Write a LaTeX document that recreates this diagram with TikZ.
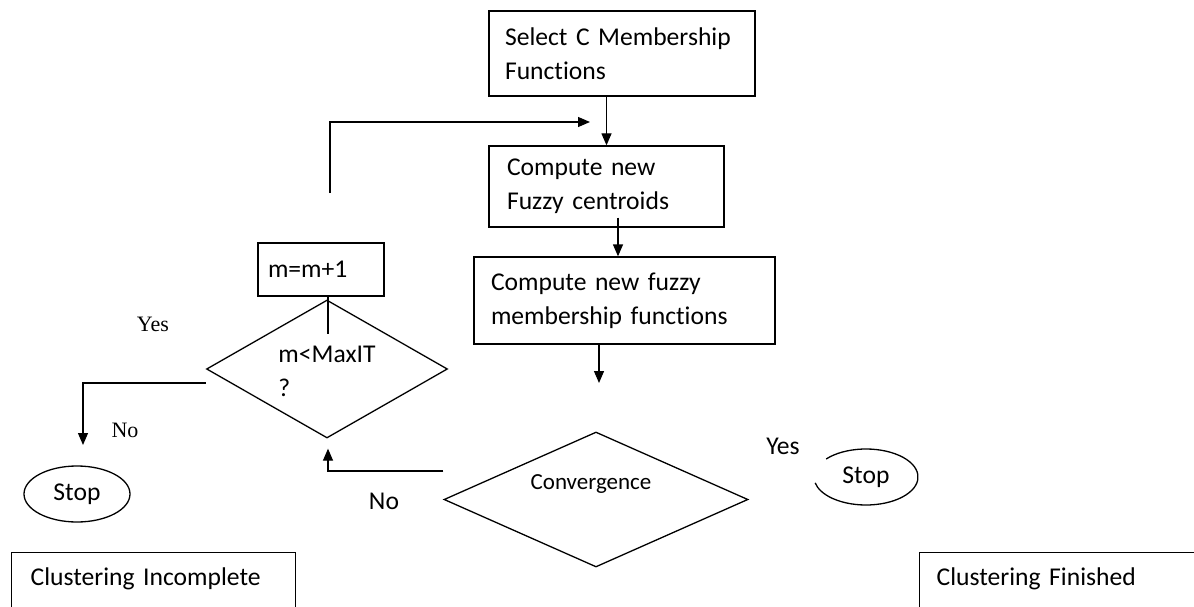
\documentclass[tikz,border=0pt]{standalone}
\usepackage{fontspec}
\setmainfont[Ligatures=NoCommon]{Carlito}
\newfontfamily\oldserif{Liberation Serif}
\usetikzlibrary{arrows.meta,shapes.geometric}
\newcommand\tightspace{\spaceskip=3.2pt plus 1pt minus 1pt\relax}

\begin{document}
\begin{tikzpicture}[
      x=1pt, y=1pt,
      font=\fontsize{25.6}{34}\selectfont\tightspace,
      line width=1.3pt,
      pbox/.style={draw, rectangle, align=left, inner ysep=0pt},
      dbox/.style={draw, diamond, inner sep=0pt},
      obox/.style={draw, ellipse, inner sep=0pt},
      lbl/.style={inner sep=1pt},
      slbl/.style={inner sep=1pt, font=\oldserif\fontsize{22}{26}\selectfont},
      arr/.style={-{Triangle[length=12pt,width=10pt]}},
    ]
      \useasboundingbox (0,0) rectangle (1194,-607);
      \clip (0,0) rectangle (1194,-607);

      % Process boxes
      \node[pbox, minimum width=266pt, minimum height=85pt,
            text width=234pt, inner xsep=16pt] (sel) at (622,-53.5)
            {Select C Membership\\Functions};
      \node[pbox, minimum width=235pt, minimum height=81pt,
            text width=199pt, inner xsep=18pt] (cent) at (606.5,-186.5)
            {Compute new\\Fuzzy centroids};
      \node[pbox, minimum width=301pt, minimum height=87pt,
            text width=267pt, inner xsep=17pt] (memb) at (624.5,-300.5)
            {Compute new fuzzy\\membership functions};
      \node[pbox, minimum width=126pt, minimum height=53pt,
            text width=106pt, inner xsep=10pt] (incr) at (321,-269.5)
            {m=m+1};

      % Decisions
      \node[dbox, minimum width=241pt, minimum height=138pt] (maxit) at (327,-369) {};
      \node[lbl, align=left] (maxittxt) at (327,-371) {m<MaxIT\\?};
      \node[dbox, minimum width=304pt, minimum height=135pt] (conv) at (596,-499.5) {};
      \node[lbl, font=\fontsize{23}{28}\selectfont] (convtxt) at (591,-484) {Convergence};

      % Terminals
      \node[obox, minimum width=106pt, minimum height=56pt] (stopl) at (77,-494) {\raisebox{-2pt}{Stop}};
      \node[lbl] (stopr) at (866,-477) {Stop};
      \draw ([shift={(140:52 and 28)}]stopr.center)
            arc[start angle=140, end angle=-168, x radius=52, y radius=28];

      % Results
      \node[pbox, anchor=north west, text width=246pt, inner xsep=19pt,
            text height=33pt, text depth=80pt] (incomp) at (11,-552)
            {Clustering Incomplete};
      \node[pbox, anchor=north west, text width=266pt, inner xsep=17pt,
            text height=33pt, text depth=80pt] (finish) at (919,-552)
            {Clustering Finished};

      % Labels
      \node[slbl] (yesl) at (153,-324) {Yes};
      \node[slbl] (nol)  at (125,-430) {No};
      \node[lbl]  (noc)  at (384,-501) {No};
      \node[lbl]  (yesc) at (783,-446) {Yes};

      % Arrows
      \coordinate (dn)    at (599,-383);
      \coordinate (lpA)   at (330,-193);
      \coordinate (lpB)   at (590,-122);
      \coordinate (nstop) at (83,-445);
      \draw[arr] (cent.north |- sel.south)--(cent.north);
      \draw[arr] ([shift={(11.5,10)}]cent.south)--([xshift=-6.5]memb.north);
      \draw[arr] (memb.south -| dn)--(dn);
      \draw ([xshift=7]incr.south)--++(0,-37);
      \draw[arr] (lpA)|-(lpB);
      \draw[arr] ([yshift=-14]maxit.west)-|(nstop);
      \draw[arr] ([yshift=28.5]conv.west)-|([shift={(1,-10)}]maxit.south);
    \end{tikzpicture}
\end{document}
